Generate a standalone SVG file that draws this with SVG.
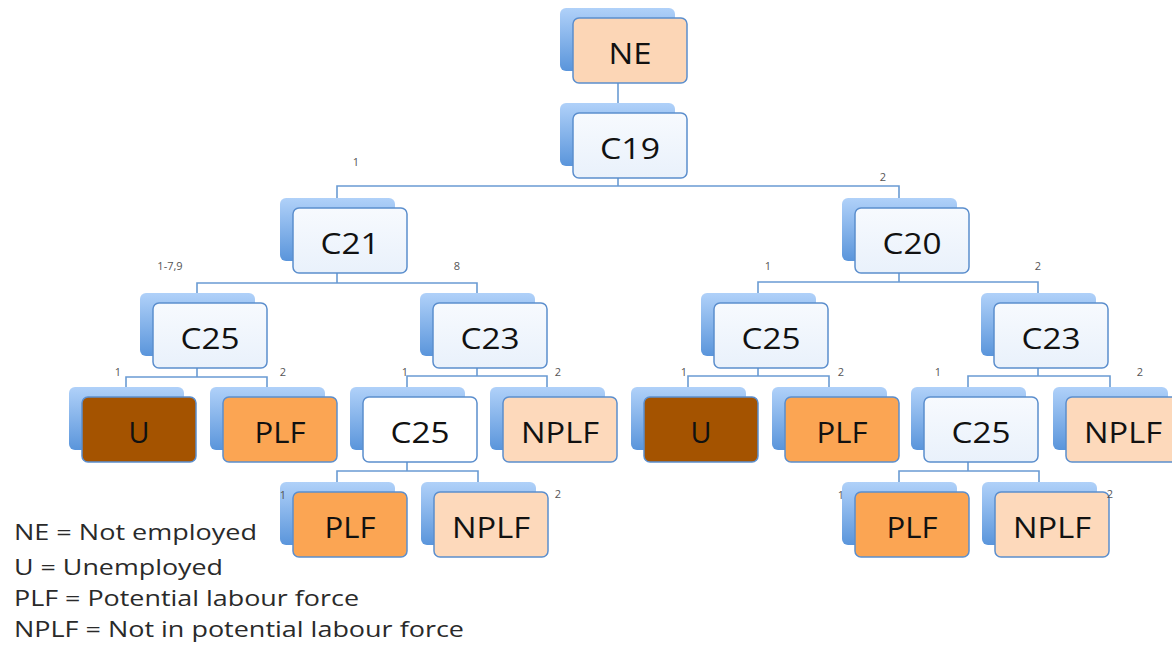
<svg xmlns="http://www.w3.org/2000/svg" width="1172" height="645" viewBox="0 0 1172 645">
<defs>
<linearGradient id="bg" x1="0" y1="0" x2="0" y2="1">
<stop offset="0" stop-color="#b0d1f9"/>
<stop offset="1" stop-color="#5a95db"/>
</linearGradient>
<linearGradient id="fl" x1="0" y1="0" x2="0" y2="1">
<stop offset="0" stop-color="#f7fafe"/>
<stop offset="1" stop-color="#e9f1fb"/>
</linearGradient>
</defs>
<style>
.back{fill:url(#bg);}
.front{stroke:#5b8ecd;stroke-width:1.5;}
.lt{fill:url(#fl);}
.wh{fill:#ffffff;}
.ne{fill:#fcd6b6;}
.u{fill:#a45300;}
.plf{fill:#fba553;}
.nplf{fill:#fdd9bb;}
.t{font-family:"Open Sans","Liberation Sans",sans-serif;font-size:29px;fill:#111;text-anchor:middle;}
.s{font-family:"Open Sans","Liberation Sans",sans-serif;font-size:11px;fill:#555;text-anchor:middle;}
.lg{font-family:"Open Sans","Liberation Sans",sans-serif;font-size:21px;fill:#2a2a2a;}
.c{fill:none;stroke:#6a9bd3;stroke-width:1.6;}
</style>
<g id="connectors">
<path class="c" d="M618,83 V103"/>
<path class="c" d="M618,178 V186 M337,198 V186 H899 V198"/>
<path class="c" d="M337,273 V283 M197,293 V283 H477 V293"/>
<path class="c" d="M899,273 V282 M758,293 V282 H1038 V293"/>
<path class="c" d="M197,368 V377 M126,387 V377 H267 V387"/>
<path class="c" d="M477,368 V376 M407,387 V376 H547 V387"/>
<path class="c" d="M758,368 V376 M688,387 V376 H829 V387"/>
<path class="c" d="M1038,368 V376 M968,387 V376 H1110 V387"/>
<path class="c" d="M407,462 V471 M337,482 V471 H478 V482"/>
<path class="c" d="M968,462 V471 M899,482 V471 H1039 V482"/>
</g>
<g id="NE"><rect class="back" x="560" y="8" width="115" height="63" rx="6"/><rect class="front ne" x="573" y="18" width="114" height="65" rx="6"/><text class="t" x="630" y="64" textLength="43" lengthAdjust="spacingAndGlyphs">NE</text></g>
<g id="C19"><rect class="back" x="560" y="103" width="115" height="63" rx="6"/><rect class="front lt" x="573" y="113" width="114" height="65" rx="6"/><text class="t" x="630" y="159" textLength="60" lengthAdjust="spacingAndGlyphs">C19</text></g>
<g id="C21"><rect class="back" x="280" y="198" width="115" height="63" rx="6"/><rect class="front lt" x="293" y="208" width="114" height="65" rx="6"/><text class="t" x="350" y="254" textLength="59" lengthAdjust="spacingAndGlyphs">C21</text></g>
<g id="C20"><rect class="back" x="842" y="198" width="115" height="63" rx="6"/><rect class="front lt" x="855" y="208" width="114" height="65" rx="6"/><text class="t" x="912" y="254" textLength="59" lengthAdjust="spacingAndGlyphs">C20</text></g>
<g id="C25a"><rect class="back" x="140" y="293" width="115" height="63" rx="6"/><rect class="front lt" x="153" y="303" width="114" height="65" rx="6"/><text class="t" x="210" y="349" textLength="59" lengthAdjust="spacingAndGlyphs">C25</text></g>
<g id="C23a"><rect class="back" x="420" y="293" width="115" height="63" rx="6"/><rect class="front lt" x="433" y="303" width="114" height="65" rx="6"/><text class="t" x="490" y="349" textLength="59" lengthAdjust="spacingAndGlyphs">C23</text></g>
<g id="C25b"><rect class="back" x="701" y="293" width="115" height="63" rx="6"/><rect class="front lt" x="714" y="303" width="114" height="65" rx="6"/><text class="t" x="771" y="349" textLength="59" lengthAdjust="spacingAndGlyphs">C25</text></g>
<g id="C23b"><rect class="back" x="981" y="293" width="115" height="63" rx="6"/><rect class="front lt" x="994" y="303" width="114" height="65" rx="6"/><text class="t" x="1051" y="349" textLength="59" lengthAdjust="spacingAndGlyphs">C23</text></g>
<g id="U1"><rect class="back" x="69" y="387" width="115" height="63" rx="6"/><rect class="front u" x="82" y="397" width="114" height="65" rx="6"/><text class="t" x="139" y="443" textLength="21" lengthAdjust="spacingAndGlyphs">U</text></g>
<g id="PLF1"><rect class="back" x="210" y="387" width="115" height="63" rx="6"/><rect class="front plf" x="223" y="397" width="114" height="65" rx="6"/><text class="t" x="280" y="443" textLength="51" lengthAdjust="spacingAndGlyphs">PLF</text></g>
<g id="C25c"><rect class="back" x="350" y="387" width="115" height="63" rx="6"/><rect class="front wh" x="363" y="397" width="114" height="65" rx="6"/><text class="t" x="420" y="443" textLength="59" lengthAdjust="spacingAndGlyphs">C25</text></g>
<g id="NPLF1"><rect class="back" x="490" y="387" width="115" height="63" rx="6"/><rect class="front nplf" x="503" y="397" width="114" height="65" rx="6"/><text class="t" x="560" y="443" textLength="78" lengthAdjust="spacingAndGlyphs">NPLF</text></g>
<g id="U2"><rect class="back" x="631" y="387" width="115" height="63" rx="6"/><rect class="front u" x="644" y="397" width="114" height="65" rx="6"/><text class="t" x="701" y="443" textLength="21" lengthAdjust="spacingAndGlyphs">U</text></g>
<g id="PLF2"><rect class="back" x="772" y="387" width="115" height="63" rx="6"/><rect class="front plf" x="785" y="397" width="114" height="65" rx="6"/><text class="t" x="842" y="443" textLength="51" lengthAdjust="spacingAndGlyphs">PLF</text></g>
<g id="C25d"><rect class="back" x="911" y="387" width="115" height="63" rx="6"/><rect class="front lt" x="924" y="397" width="114" height="65" rx="6"/><text class="t" x="981" y="443" textLength="59" lengthAdjust="spacingAndGlyphs">C25</text></g>
<g id="NPLF2"><rect class="back" x="1053" y="387" width="115" height="63" rx="6"/><rect class="front nplf" x="1066" y="397" width="114" height="65" rx="6"/><text class="t" x="1123" y="443" textLength="78" lengthAdjust="spacingAndGlyphs">NPLF</text></g>
<g id="PLF3"><rect class="back" x="280" y="482" width="115" height="63" rx="6"/><rect class="front plf" x="293" y="492" width="114" height="65" rx="6"/><text class="t" x="350" y="538" textLength="51" lengthAdjust="spacingAndGlyphs">PLF</text></g>
<g id="NPLF3"><rect class="back" x="421" y="482" width="115" height="63" rx="6"/><rect class="front nplf" x="434" y="492" width="114" height="65" rx="6"/><text class="t" x="491" y="538" textLength="78" lengthAdjust="spacingAndGlyphs">NPLF</text></g>
<g id="PLF4"><rect class="back" x="842" y="482" width="115" height="63" rx="6"/><rect class="front plf" x="855" y="492" width="114" height="65" rx="6"/><text class="t" x="912" y="538" textLength="51" lengthAdjust="spacingAndGlyphs">PLF</text></g>
<g id="NPLF4"><rect class="back" x="982" y="482" width="115" height="63" rx="6"/><rect class="front nplf" x="995" y="492" width="114" height="65" rx="6"/><text class="t" x="1052" y="538" textLength="78" lengthAdjust="spacingAndGlyphs">NPLF</text></g>
<g id="edge-labels">
<text class="s" x="356" y="166">1</text>
<text class="s" x="883" y="181">2</text>
<text class="s" x="170" y="270">1-7,9</text>
<text class="s" x="457" y="270">8</text>
<text class="s" x="768" y="270">1</text>
<text class="s" x="1038" y="270">2</text>
<text class="s" x="118" y="376">1</text>
<text class="s" x="283" y="376">2</text>
<text class="s" x="405" y="376">1</text>
<text class="s" x="558" y="376">2</text>
<text class="s" x="684" y="376">1</text>
<text class="s" x="841" y="376">2</text>
<text class="s" x="938" y="376">1</text>
<text class="s" x="1140" y="376">2</text>
<text class="s" x="283" y="499">1</text>
<text class="s" x="558" y="498">2</text>
<text class="s" x="841" y="499">1</text>
<text class="s" x="1110" y="498">2</text>
</g>
<g id="legend">
<text class="lg" x="14" y="540" textLength="243" lengthAdjust="spacingAndGlyphs">NE = Not employed</text>
<text class="lg" x="14" y="575" textLength="209" lengthAdjust="spacingAndGlyphs">U = Unemployed</text>
<text class="lg" x="14" y="606" textLength="345" lengthAdjust="spacingAndGlyphs">PLF = Potential labour force</text>
<text class="lg" x="14" y="637" textLength="450" lengthAdjust="spacingAndGlyphs">NPLF = Not in potential labour force</text>
</g>
</svg>
